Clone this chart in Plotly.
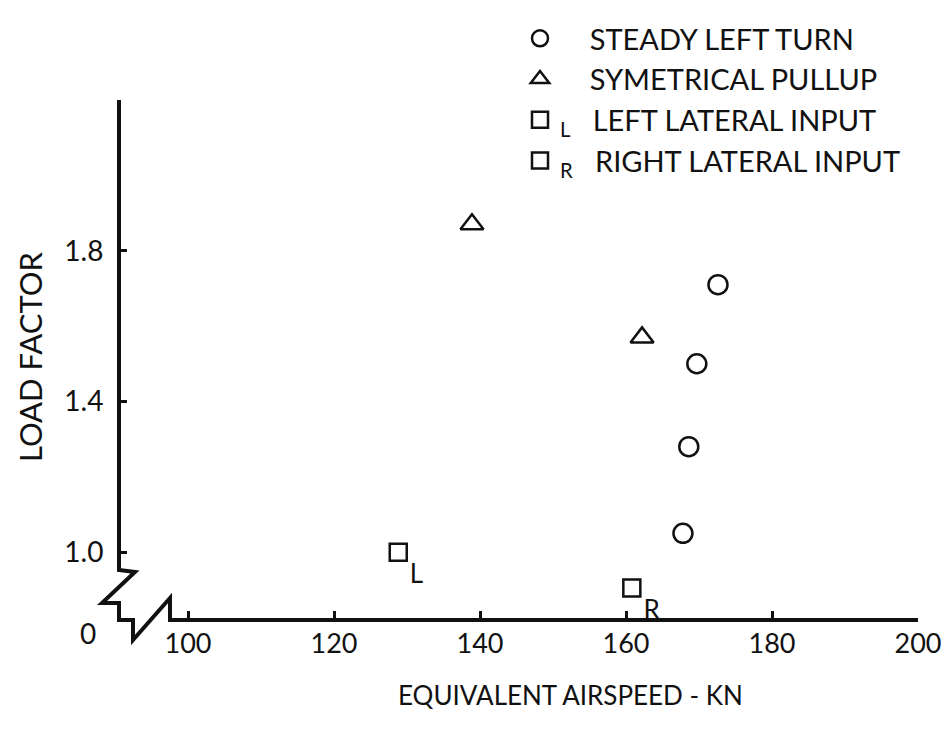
import plotly.graph_objects as go

# ---- data ----
turn_x = [172.6, 169.7, 168.6, 167.8]
turn_y = [1.71, 1.50, 1.28, 1.05]
pull_x = [138.9, 162.2]
pull_y = [1.87, 1.57]
left_x = [128.8]
left_y = [1.00]
right_x = [160.8]
right_y = [0.905]

x_ticks = [100, 120, 140, 160, 180, 200]
y_ticks = [1.0, 1.4, 1.8, 2.2]
y_ticktext = ["1.0", "1.4", "1.8", " "]

FONT = "Lato"
INK = "#111111"
NB = "\u00a0"

# plot-area geometry (pixels)
L, R, T, B = 118, 918, 100, 620
W, H = R - L, B - T


def pxp(p):
    return (p - L) / W


def pyp(p):
    return (B - p) / H


fig = go.Figure()

fig.add_trace(go.Scatter(
    x=turn_x, y=turn_y, mode="markers", legendgroup="a",
    name=NB * 4 + "STEADY LEFT TURN",
    marker=dict(symbol="circle-open", size=19, color=INK, line=dict(width=2.5, color=INK)),
))
fig.add_trace(go.Scatter(
    x=pull_x, y=pull_y, mode="markers", legendgroup="b",
    name=NB * 4 + "SYMETRICAL PULLUP",
    marker=dict(symbol="triangle-up-open", size=20, color=INK, line=dict(width=2.5, color=INK)),
))
fig.add_trace(go.Scatter(
    x=left_x, y=left_y, mode="markers+text", legendgroup="c",
    name="<sub>L</sub>" + NB * 3 + "LEFT LATERAL INPUT",
    text=["L"], textposition="bottom right",
    textfont=dict(family=FONT, size=26, color=INK),
    marker=dict(symbol="square-open", size=17, color=INK, line=dict(width=2.5, color=INK)),
))
fig.add_trace(go.Scatter(
    x=right_x, y=right_y, mode="markers+text", legendgroup="d",
    name="<sub>R</sub>" + NB * 3 + "RIGHT LATERAL INPUT",
    text=["R"], textposition="bottom right",
    textfont=dict(family=FONT, size=26, color=INK),
    marker=dict(symbol="square-open", size=17, color=INK, line=dict(width=2.5, color=INK)),
))

# axis line with breaks (paper coordinates)
pts = [(119, 100), (119, 570), (135, 572), (102, 603), (119, 603), (119, 620),
       (133, 620), (133, 640), (170, 598), (170, 620), (918, 620)]
path = "M " + " L ".join(f"{pxp(a):.5f},{pyp(b):.5f}" for a, b in pts)
fig.add_shape(type="path", xref="paper", yref="paper", path=path,
              line=dict(color=INK, width=4))

fig.add_annotation(x=pxp(88), y=pyp(633), xref="paper", yref="paper", text="0",
                   xanchor="center", yanchor="middle",
                   showarrow=False, font=dict(family=FONT, size=28, color=INK))
fig.add_annotation(x=pxp(30), y=pyp(357), xref="paper", yref="paper", text="LOAD FACTOR",
                   xanchor="center", yanchor="middle",
                   textangle=-90, showarrow=False, font=dict(family=FONT, size=31, color=INK))
fig.add_annotation(x=pxp(570), y=pyp(695), xref="paper", yref="paper",
                   text="EQUIVALENT AIRSPEED - KN", xanchor="center", yanchor="middle",
                   showarrow=False, font=dict(family=FONT, size=26, color=INK))

axis_common = dict(ticks="inside", ticklen=9, tickwidth=2.5, tickcolor=INK,
                   showline=True, linewidth=1, linecolor="rgba(0,0,0,0)",
                   showgrid=False, zeroline=False, layer="above traces")

fig.update_layout(
    width=952, height=734,
    margin=dict(l=L, r=952 - R, t=T, b=734 - B),
    paper_bgcolor="white", plot_bgcolor="white",
    font=dict(family=FONT, size=24, color=INK),
    showlegend=True,
    legend=dict(x=pxp(520), y=pyp(13), xanchor="left", yanchor="top",
                font=dict(family=FONT, size=29, color=INK),
                bgcolor="rgba(0,0,0,0)", itemwidth=30, tracegroupgap=0),
    xaxis=dict(range=[90.41, 200.0], tickvals=x_ticks,
               tickfont=dict(family=FONT, size=27, color=INK), **axis_common),
    yaxis=dict(range=[0.82, 2.2], tickvals=y_ticks, ticktext=y_ticktext,
               ticklabelstandoff=8,
               tickfont=dict(family=FONT, size=28, color=INK), **axis_common),
)

fig.write_html("out.html")
